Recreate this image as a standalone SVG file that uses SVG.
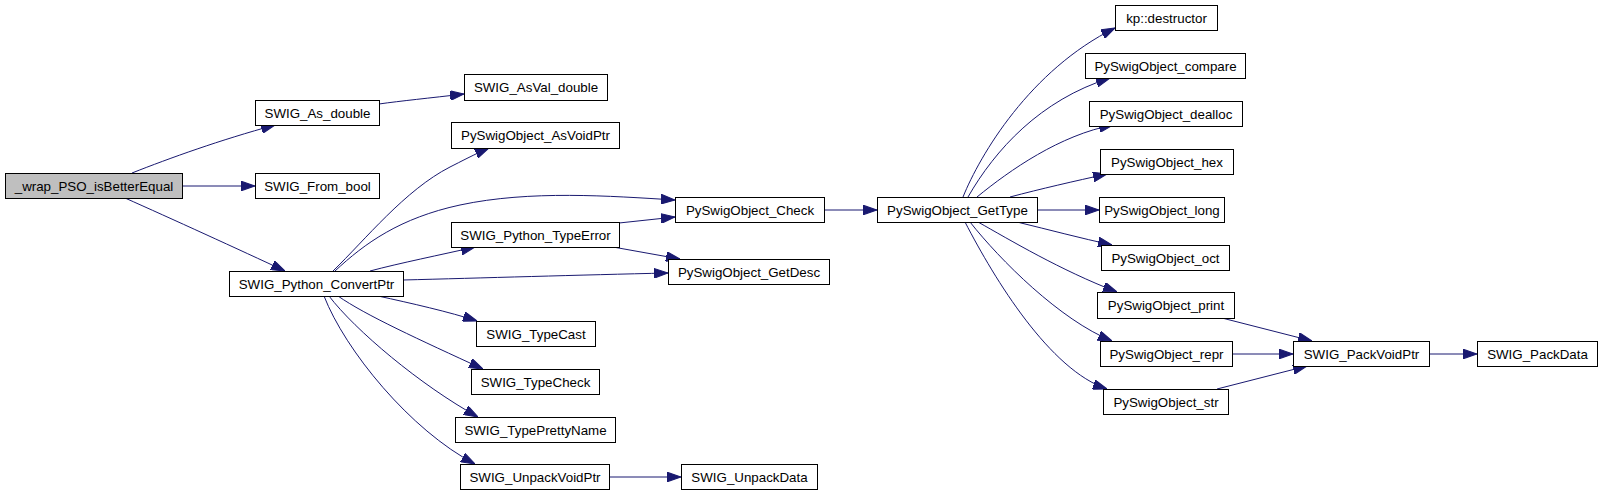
<svg xmlns="http://www.w3.org/2000/svg" width="1603" height="493" viewBox="0 0 1603 493">
<style>
.node rect{fill:#ffffff;stroke:#000000;stroke-width:1}
.node.root rect{fill:#bfbfbf}
.node text{font-family:"Liberation Sans",Arial,Helvetica,sans-serif;font-size:13.33px;fill:#000000;text-anchor:middle}
.edges path{fill:none;stroke:#191970;stroke-width:1;marker-end:url(#arr)}
</style>
<defs>
<marker id="arr" markerUnits="userSpaceOnUse" markerWidth="14" markerHeight="10" viewBox="0 0 13 9" refX="13" refY="4.5" orient="auto">
<path d="M0,0 L13,4.5 L0,9 z" fill="#191970" stroke="#191970" stroke-width="1"/>
</marker>
</defs>
<rect width="1603" height="493" fill="#ffffff"/>
<g class="edges" id="edges">
<path d="M132,173 C170,158 220,140 275,125"/>
<path d="M182,186 L255,186"/>
<path d="M125,198 C170,218 240,250 285,271"/>
<path d="M379,104 C400,101 430,98 464,94"/>
<path d="M333,271 C365,240 405,190 450,167 C460,162 475,154 489,148"/>
<path d="M335,271 C365,243 400,218 460,205 C530,190 610,196 675,200"/>
<path d="M370,271 C400,263 440,255 475,247"/>
<path d="M403,280 C480,278 580,275 668,273"/>
<path d="M378,296 C410,303 450,312 477,321"/>
<path d="M338,296 C365,315 420,340 483,369"/>
<path d="M329,296 C355,330 420,385 478,417"/>
<path d="M324,296 C345,350 410,430 475,464"/>
<path d="M619,223 L675,217"/>
<path d="M613,247 L680,259"/>
<path d="M609,477 L681,477"/>
<path d="M824,210 L877,210"/>
<path d="M963,197 C980,155 1030,70 1115,28"/>
<path d="M968,197 C995,150 1040,100 1110,78"/>
<path d="M977,197 C1010,170 1060,135 1113,125"/>
<path d="M1010,197 C1040,189 1075,181 1107,174"/>
<path d="M1037,210 L1099,210"/>
<path d="M1017,222 C1050,230 1080,238 1112,245"/>
<path d="M978,222 C1010,240 1060,270 1117,292"/>
<path d="M970,222 C1000,260 1060,320 1112,341"/>
<path d="M965,222 C995,280 1050,370 1107,389"/>
<path d="M1222,318 L1312,341"/>
<path d="M1232,354 L1293,354"/>
<path d="M1217,389 L1307,366"/>
<path d="M1429,354 L1477,354"/>
</g>
<g class="node root" id="n0"><rect x="5.5" y="173.5" width="177" height="25"/><text x="94" y="190.5">_wrap_PSO_isBetterEqual</text></g>
<g class="node" id="n1"><rect x="255.5" y="100.5" width="124" height="25"/><text x="317.5" y="117.5">SWIG_As_double</text></g>
<g class="node" id="n2"><rect x="255.5" y="173.5" width="124" height="25"/><text x="317.5" y="190.5">SWIG_From_bool</text></g>
<g class="node" id="n3"><rect x="229.5" y="271.5" width="174" height="25"/><text x="316.5" y="288.5">SWIG_Python_ConvertPtr</text></g>
<g class="node" id="n4"><rect x="464.5" y="74.5" width="143" height="26"/><text x="536" y="92">SWIG_AsVal_double</text></g>
<g class="node" id="n5"><rect x="451.5" y="122.5" width="168" height="26"/><text x="535.5" y="140">PySwigObject_AsVoidPtr</text></g>
<g class="node" id="n6"><rect x="675.5" y="197.5" width="149" height="25"/><text x="750" y="214.5">PySwigObject_Check</text></g>
<g class="node" id="n7"><rect x="451.5" y="222.5" width="168" height="25"/><text x="535.5" y="239.5">SWIG_Python_TypeError</text></g>
<g class="node" id="n8"><rect x="668.5" y="259.5" width="161" height="25"/><text x="749" y="276.5">PySwigObject_GetDesc</text></g>
<g class="node" id="n9"><rect x="476.5" y="321.5" width="119" height="25"/><text x="536" y="338.5">SWIG_TypeCast</text></g>
<g class="node" id="n10"><rect x="471.5" y="369.5" width="128" height="25"/><text x="535.5" y="386.5">SWIG_TypeCheck</text></g>
<g class="node" id="n11"><rect x="455.5" y="417.5" width="160" height="25"/><text x="535.5" y="434.5">SWIG_TypePrettyName</text></g>
<g class="node" id="n12"><rect x="460.5" y="464.5" width="149" height="25"/><text x="535" y="481.5">SWIG_UnpackVoidPtr</text></g>
<g class="node" id="n13"><rect x="681.5" y="464.5" width="136" height="25"/><text x="749.5" y="481.5">SWIG_UnpackData</text></g>
<g class="node" id="n14"><rect x="877.5" y="197.5" width="160" height="25"/><text x="957.5" y="214.5">PySwigObject_GetType</text></g>
<g class="node" id="n15"><rect x="1115.5" y="5.5" width="102" height="25"/><text x="1166.5" y="22.5">kp::destructor</text></g>
<g class="node" id="n16"><rect x="1085.5" y="53.5" width="160" height="25"/><text x="1165.5" y="70.5">PySwigObject_compare</text></g>
<g class="node" id="n17"><rect x="1089.5" y="101.5" width="153" height="25"/><text x="1166" y="118.5">PySwigObject_dealloc</text></g>
<g class="node" id="n18"><rect x="1100.5" y="149.5" width="133" height="25"/><text x="1167" y="166.5">PySwigObject_hex</text></g>
<g class="node" id="n19"><rect x="1099.5" y="197.5" width="125" height="25"/><text x="1162" y="214.5">PySwigObject_long</text></g>
<g class="node" id="n20"><rect x="1101.5" y="245.5" width="128" height="25"/><text x="1165.5" y="262.5">PySwigObject_oct</text></g>
<g class="node" id="n21"><rect x="1097.5" y="292.5" width="137" height="26"/><text x="1166" y="310">PySwigObject_print</text></g>
<g class="node" id="n22"><rect x="1100.5" y="341.5" width="132" height="25"/><text x="1166.5" y="358.5">PySwigObject_repr</text></g>
<g class="node" id="n23"><rect x="1103.5" y="389.5" width="125" height="25"/><text x="1166" y="406.5">PySwigObject_str</text></g>
<g class="node" id="n24"><rect x="1293.5" y="341.5" width="136" height="25"/><text x="1361.5" y="358.5">SWIG_PackVoidPtr</text></g>
<g class="node" id="n25"><rect x="1477.5" y="341.5" width="120" height="25"/><text x="1537.5" y="358.5">SWIG_PackData</text></g>
</svg>
